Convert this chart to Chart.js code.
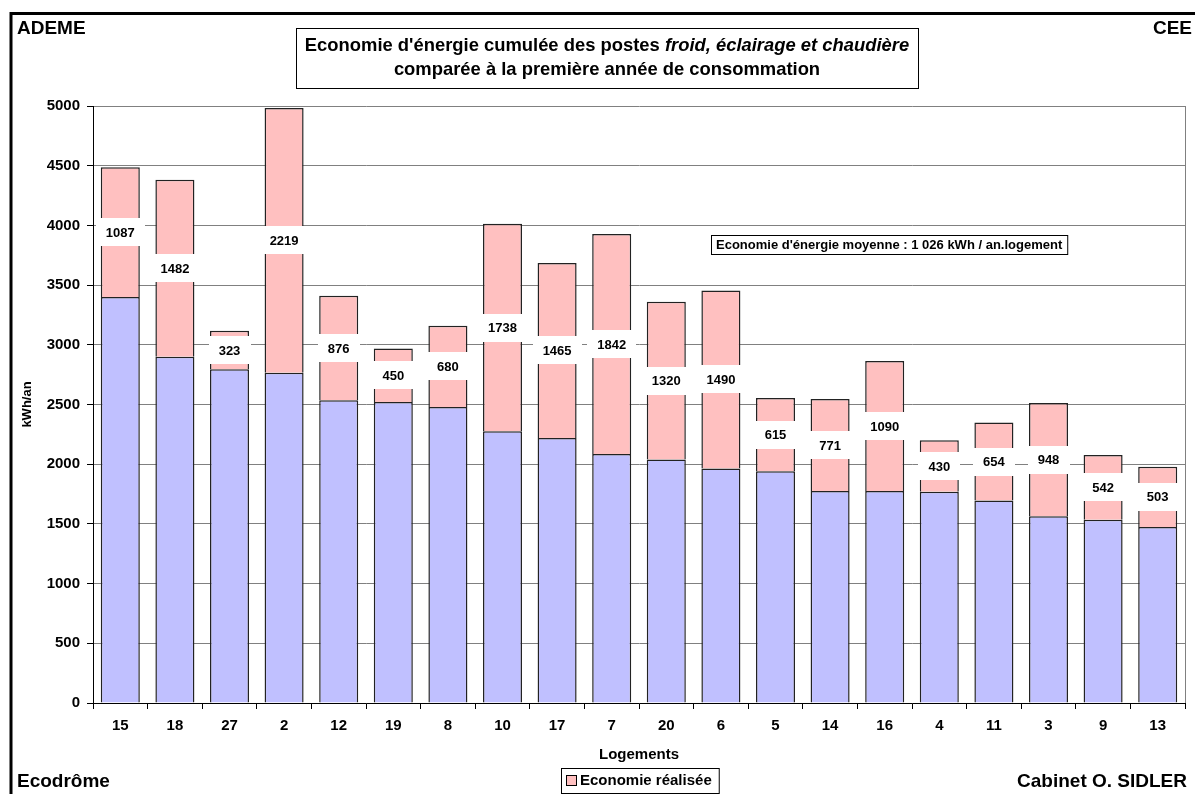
<!DOCTYPE html>
<html lang="fr">
<head>
<meta charset="utf-8">
<title>Economie d'énergie cumulée</title>
<script src="https://cdn.jsdelivr.net/npm/chart.js@4/dist/chart.umd.min.js"></script>
<style>
  html, body { margin: 0; padding: 0; background: #ffffff; }
  #wrap { width: 1195px; height: 794px; position: relative; }
</style>
</head>
<body>
<div id="wrap"><canvas id="c" width="1195" height="794"></canvas></div>
<script>
// Logements, dans l'ordre de consommation décroissante
const categories = ['15', '18', '27', '2', '12', '19', '8', '10', '17', '7',
                    '20', '6', '5', '14', '16', '4', '11', '3', '9', '13'];

// Consommation actuelle (kWh/an)
const baseValues = [3400, 2900, 2795, 2765, 2535, 2520, 2480, 2275, 2220, 2085,
                    2040, 1965, 1940, 1775, 1775, 1770, 1695, 1565, 1535, 1475];

// Economie réalisée par rapport à la première année (kWh/an)
const savedValues = [1087, 1482, 323, 2219, 876, 450, 680, 1738, 1465, 1842,
                     1320, 1490, 615, 771, 1090, 430, 654, 948, 542, 503];

const yMin = 0, yMax = 5000, yStep = 500;

const FONT = "'Liberation Sans', Arial, Helvetica, sans-serif";
Chart.defaults.font.family = FONT;
Chart.defaults.color = '#000000';

// Cadre, textes d'angle, titre, encadré de moyenne, étiquettes et légende
const decorations = {
  id: 'decorations',
  beforeDraw(chart) {
    const ctx = chart.ctx;
    ctx.save();
    ctx.fillStyle = '#ffffff';
    ctx.fillRect(0, 0, chart.width, chart.height);
    ctx.restore();
  },
  afterDatasetsDraw(chart) {
    const ctx = chart.ctx;
    const meta = chart.getDatasetMeta(1);
    ctx.save();
    ctx.font = 'bold 13px ' + FONT;
    ctx.textAlign = 'center';
    ctx.textBaseline = 'middle';
    meta.data.forEach((el, i) => {
      const txt = String(savedValues[i]);
      const cy = (el.y + el.base) / 2;
      const w = ctx.measureText(txt).width + 20;
      const h = 28;
      ctx.fillStyle = '#ffffff';
      ctx.fillRect(Math.round(el.x - w / 2), Math.round(cy - h / 2), Math.round(w), h);
      ctx.fillStyle = '#000000';
      ctx.fillText(txt, el.x, cy + 1);
    });
    ctx.restore();
  },
  afterDraw(chart) {
    const ctx = chart.ctx;
    const area = chart.chartArea;
    ctx.save();

    // bord droit de la zone de tracé
    ctx.strokeStyle = '#808080';
    ctx.lineWidth = 1;
    ctx.beginPath();
    ctx.moveTo(Math.round(area.right) + 0.5, area.top);
    ctx.lineTo(Math.round(area.right) + 0.5, area.bottom);
    ctx.stroke();

    // cadre extérieur (haut et gauche)
    ctx.strokeStyle = '#000000';
    ctx.lineWidth = 3;
    ctx.beginPath();
    ctx.moveTo(11, 794);
    ctx.lineTo(11, 13.5);
    ctx.lineTo(1195, 13.5);
    ctx.stroke();

    // textes d'angle
    ctx.fillStyle = '#000000';
    ctx.font = 'bold 19px ' + FONT;
    ctx.textBaseline = 'alphabetic';
    ctx.textAlign = 'left';
    ctx.fillText('ADEME', 17, 34);
    ctx.fillText('Ecodrôme', 17, 787);
    ctx.textAlign = 'right';
    ctx.fillText('CEE', 1192, 34);
    ctx.fillText('Cabinet O. SIDLER', 1187, 787);

    // titre encadré
    ctx.fillStyle = '#ffffff';
    ctx.fillRect(296, 28, 622, 60);
    ctx.strokeStyle = '#000000';
    ctx.lineWidth = 1;
    ctx.strokeRect(296.5, 28.5, 622, 60);
    ctx.fillStyle = '#000000';
    ctx.textBaseline = 'middle';
    const p1 = "Economie d'énergie cumulée des postes ";
    const p2 = 'froid, éclairage et chaudière';
    const fB = 'bold 18.4px ' + FONT;
    const fBI = 'italic bold 18.4px ' + FONT;
    ctx.font = fB;
    const w1 = ctx.measureText(p1).width;
    ctx.font = fBI;
    const w2 = ctx.measureText(p2).width;
    let x0 = 607 - (w1 + w2) / 2;
    ctx.textAlign = 'left';
    ctx.font = fB;
    ctx.fillText(p1, x0, 46);
    ctx.font = fBI;
    ctx.fillText(p2, x0 + w1, 46);
    ctx.font = fB;
    ctx.textAlign = 'center';
    ctx.fillText('comparée à la première année de consommation', 607, 70);

    // encadré de l'économie moyenne
    const note = "Economie d'énergie moyenne : 1 026 kWh / an.logement";
    ctx.font = 'bold 13px ' + FONT;
    const nw = ctx.measureText(note).width + 10;
    const nx = 711, ny = 235, nh = 19;
    ctx.fillStyle = '#ffffff';
    ctx.fillRect(nx, ny, nw, nh);
    ctx.strokeStyle = '#000000';
    ctx.strokeRect(nx + 0.5, ny + 0.5, nw, nh);
    ctx.fillStyle = '#000000';
    ctx.textAlign = 'left';
    ctx.fillText(note, nx + 5, ny + nh / 2 + 1);

    // légende
    const ds = chart.data.datasets[1];
    ctx.font = 'bold 15px ' + FONT;
    const lw = ctx.measureText(ds.label).width;
    const lx = 561, ly = 768, lh = 25;
    const lbw = lw + 26;
    ctx.fillStyle = '#ffffff';
    ctx.fillRect(lx, ly, lbw, lh);
    ctx.strokeStyle = '#000000';
    ctx.strokeRect(lx + 0.5, ly + 0.5, lbw, lh);
    ctx.fillStyle = ds.backgroundColor;
    ctx.fillRect(566, 775, 10, 10);
    ctx.strokeRect(566.5, 775.5, 10, 10);
    ctx.fillStyle = '#000000';
    ctx.fillText(ds.label, 580, 781);

    ctx.restore();
  }
};

new Chart(document.getElementById('c'), {
  type: 'bar',
  data: {
    labels: categories,
    datasets: [
      {
        label: 'Consommation',
        data: baseValues,
        backgroundColor: '#C0C0FF',
        borderColor: '#222222',
        borderWidth: 1.5,
        categoryPercentage: 1,
        barPercentage: 0.715
      },
      {
        label: 'Economie réalisée',
        data: savedValues,
        backgroundColor: '#FFC0C0',
        borderColor: '#222222',
        borderWidth: 1.5,
        categoryPercentage: 1,
        barPercentage: 0.715
      }
    ]
  },
  options: {
    responsive: false,
    animation: false,
    devicePixelRatio: 1,
    layout: { padding: { top: 106, left: 0, right: 10, bottom: 30 } },
    plugins: {
      legend: { display: false },
      title: { display: false },
      tooltip: { enabled: false }
    },
    scales: {
      x: {
        stacked: true,
        afterFit(scale) { scale.height = 61; },
        grid: {
          offset: true,
          drawOnChartArea: false,
          tickLength: 6,
          tickColor: '#000000',
          color: '#000000'
        },
        border: { color: '#000000', width: 1 },
        ticks: {
          color: '#000000',
          font: { size: 15, weight: 'bold' },
          padding: 8,
          maxRotation: 0,
          autoSkip: false
        },
        title: {
          display: true,
          text: 'Logements',
          color: '#000000',
          font: { size: 15, weight: 'bold' },
          padding: { top: 0, bottom: 0 }
        }
      },
      y: {
        stacked: true,
        min: yMin,
        max: yMax,
        afterFit(scale) { scale.width = 93; },
        grid: {
          color: '#808080',
          tickColor: '#000000',
          tickLength: 6,
          lineWidth: 1
        },
        border: { color: '#000000', width: 1 },
        ticks: {
          stepSize: yStep,
          color: '#000000',
          font: { size: 15, weight: 'bold' },
          padding: 7,
          callback: (v) => String(v)
        },
        title: {
          display: true,
          text: 'kWh/an',
          color: '#000000',
          font: { size: 13, weight: 'bold' },
          padding: { top: 20, bottom: 0 }
        }
      }
    }
  },
  plugins: [decorations]
});
</script>
</body>
</html>
